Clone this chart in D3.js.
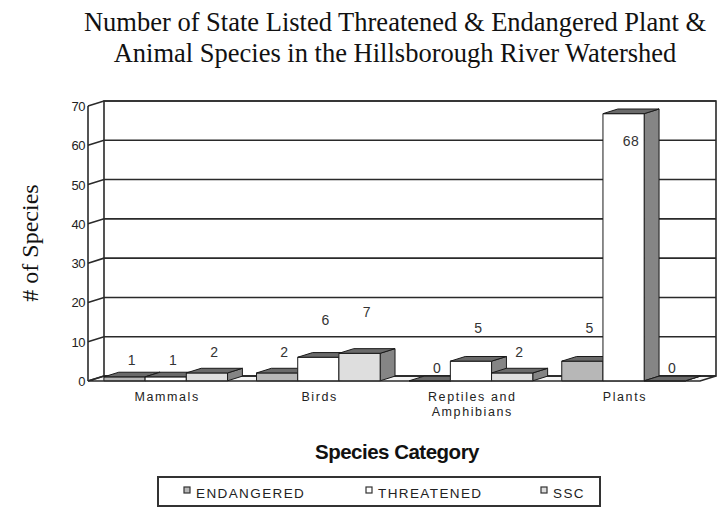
<!DOCTYPE html>
<html>
<head>
<meta charset="utf-8">
<script src="https://cdn.jsdelivr.net/npm/d3@7"></script>
<style>
  html, body { margin: 0; padding: 0; background: #fff; }
  svg { display: block; }
</style>
</head>
<body>
<svg id="chart" width="719" height="508"></svg>
<script>
// Species counts by category and listing status
const categories = ["Mammals", "Birds", "Reptiles and Amphibians", "Plants"];
const categoryLines = [["Mammals"], ["Birds"], ["Reptiles and", "Amphibians"], ["Plants"]];
const seriesNames = ["ENDANGERED", "THREATENED", "SSC"];
const endangered = [1, 2, 0, 5];
const threatened = [1, 6, 5, 68];
const ssc = [2, 7, 2, 0];
const yTicks = [0, 10, 20, 30, 40, 50, 60, 70];

const seriesValues = [endangered, threatened, ssc];
const seriesFill = ["#b7b7b7", "#ffffff", "#dedede"];

const svg = d3.select("#chart");
const sans = "'Liberation Sans', Arial, sans-serif";
const serif = "'Liberation Serif', 'Times New Roman', serif";

// Oblique 3D frame: front plane plus a depth offset
const DX = 16, DY = 5;
const x0 = d3.scaleBand().domain(categories).range([88, 700]).paddingInner(0.19).paddingOuter(0.1);
const x1 = d3.scaleBand().domain(seriesNames).range([0, x0.bandwidth()]);
const y = d3.scaleLinear().domain([0, 70]).range([381, 106]);
const yLabel = d3.scaleLinear().domain([0, 70]).range([368, 368 - 70 * 7.93]);

const P = (px, v, t) => [px + t * DX, y(v) - t * DY];
const poly = pts => "M" + pts.map(p => p.join(",")).join("L") + "Z";

// Title
svg.append("g").selectAll("text")
  .data(["Number of State Listed Threatened & Endangered Plant &",
         "Animal Species in the Hillsborough River Watershed"])
  .join("text")
  .attr("x", 395).attr("y", (d, i) => 31 + i * 31)
  .attr("text-anchor", "middle")
  .attr("font-family", serif).attr("font-size", 26.5).attr("fill", "#111")
  .text(d => d);

// Y axis title
svg.append("text")
  .attr("transform", "translate(38,243) rotate(-90)")
  .attr("text-anchor", "middle")
  .attr("font-family", serif).attr("font-size", 24).attr("fill", "#111")
  .text("# of Species");

const frame = svg.append("g").attr("fill", "none").attr("stroke", "#2a2a2a").attr("stroke-width", 1.6);

// Floor
frame.append("path")
  .attr("d", poly([P(88, 0, 0), P(700, 0, 0), P(700, 0, 1), P(88, 0, 1)]))
  .attr("fill", "#f4f4f4");

// Back wall outline
frame.append("path")
  .attr("d", poly([P(88, 0, 1), P(700, 0, 1), P(700, 70, 1), P(88, 70, 1)]));

// Gridlines on back wall and side wall
yTicks.forEach(v => {
  frame.append("path").attr("d", "M" + [P(88, v, 0), P(88, v, 1), P(700, v, 1)].map(p => p.join(",")).join("L"));
});

// Front vertical axis
frame.append("line")
  .attr("x1", 88).attr("x2", 88).attr("y1", y(0)).attr("y2", y(70));

// Y tick labels
svg.append("g").selectAll("text").data(yTicks).join("text")
  .attr("x", 85).attr("y", d => y(d) + 5)
  .attr("text-anchor", "end")
  .attr("font-family", sans).attr("font-size", 13).attr("letter-spacing", -0.5).attr("fill", "#222")
  .text(d => d);

// Bars, drawn left to right so nearer faces overlap correctly
const bars = [];
categories.forEach((c, ci) => {
  seriesNames.forEach((s, si) => {
    bars.push({ c, s, ci, si, v: seriesValues[si][ci] });
  });
});
const t0 = 0.04, t1 = 0.97;
const barG = svg.append("g").attr("stroke", "#1a1a1a").attr("stroke-width", 1).attr("stroke-linejoin", "round");
bars.forEach(b => {
  const xl = x0(b.c) + x1(b.s);
  const xr = xl + x1.bandwidth();
  const g = barG.append("g");
  // right side face
  g.append("path").attr("fill", "#858585")
    .attr("d", poly([P(xr, 0, t0), P(xr, 0, t1), P(xr, b.v, t1), P(xr, b.v, t0)]));
  // front face
  g.append("path").attr("fill", seriesFill[b.si])
    .attr("d", poly([P(xl, 0, t0), P(xr, 0, t0), P(xr, b.v, t0), P(xl, b.v, t0)]));
  // top face
  g.append("path").attr("fill", "#6a6a6a")
    .attr("d", poly([P(xl, b.v, t0), P(xr, b.v, t0), P(xr, b.v, t1), P(xl, b.v, t1)]));
});

// Value labels
svg.append("g").selectAll("text").data(bars).join("text")
  .attr("x", d => x0(d.c) + x1(d.s) + x1.bandwidth() / 2 + 8)
  .attr("y", d => {
    const ly = yLabel(d.v);
    return (ly < y(70) ? y(d.v) + 27 : ly) + 5;
  })
  .attr("text-anchor", "middle")
  .attr("font-family", sans).attr("font-size", 14).attr("letter-spacing", 0.5).attr("fill", "#333")
  .text(d => d.v);

// Category labels
const catG = svg.append("g");
categories.forEach((c, i) => {
  catG.append("text")
    .attr("x", x0(c) + x0.bandwidth() / 2 + 2)
    .attr("text-anchor", "middle")
    .attr("font-family", sans).attr("font-size", 12.5).attr("letter-spacing", 1.6).attr("fill", "#222")
    .selectAll("tspan").data(categoryLines[i]).join("tspan")
    .attr("x", x0(c) + x0.bandwidth() / 2 + 2)
    .attr("y", (d, j) => 401 + j * 15)
    .text(d => d);
});

// X axis title
svg.append("text")
  .attr("x", 397).attr("y", 459)
  .attr("text-anchor", "middle")
  .attr("font-family", sans).attr("font-weight", "bold").attr("font-size", 20.5).attr("letter-spacing", -0.5).attr("fill", "#111")
  .text("Species Category");

// Legend
const legend = svg.append("g");
legend.append("rect")
  .attr("x", 158).attr("y", 477).attr("width", 442).attr("height", 29)
  .attr("fill", "#fff").attr("stroke", "#333").attr("stroke-width", 2);
const legendX = [184, 366, 541];
seriesNames.forEach((s, i) => {
  legend.append("rect")
    .attr("x", legendX[i]).attr("y", 487).attr("width", 6).attr("height", 6)
    .attr("fill", seriesFill[i]).attr("stroke", "#333").attr("stroke-width", 1.2);
  legend.append("text")
    .attr("x", legendX[i] + 12).attr("y", 498)
    .attr("font-family", sans).attr("font-size", 13.5).attr("letter-spacing", 1.4).attr("fill", "#222")
    .text(s);
});
</script>
</body>
</html>
